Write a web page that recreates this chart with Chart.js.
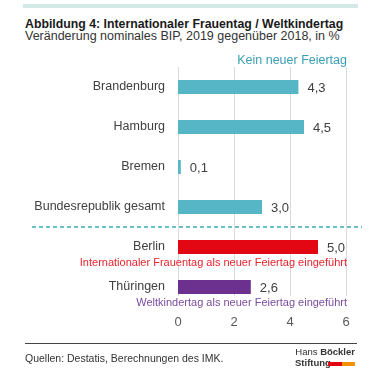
<!DOCTYPE html>
<html><head><meta charset="utf-8">
<script src="https://cdn.jsdelivr.net/npm/chart.js@4/dist/chart.umd.min.js"></script>
<style>
html,body{margin:0;padding:0;background:#fff;width:370px;height:377px;overflow:hidden;font-family:"Liberation Sans",Arial,sans-serif;}
#wrap{position:relative;width:370px;height:377px;}
canvas{position:absolute;left:0;top:0;}
.abs{position:absolute;white-space:nowrap;}
</style></head>
<body><div id="wrap">
<div class="abs" style="left:23px;top:4px;width:335px;height:4px;background:#d4e9e6"></div>
<div class="abs" id="title" style="left:25px;top:17px;font-size:12.3px;line-height:14px;font-weight:bold;color:#1a1a1a"></div>
<div class="abs" id="subtitle" style="left:25px;top:28.5px;font-size:12.5px;line-height:14px;color:#333"></div>
<canvas id="c" width="370" height="377"></canvas>
<div class="abs" style="left:25px;top:343px;width:332px;height:1px;background:#444"></div>
<div class="abs" id="source" style="left:25px;top:352px;font-size:10.5px;line-height:12px;color:#333"></div>
<div class="abs" style="right:15px;top:347px;font-size:9.5px;line-height:10px;color:#333"><span>Hans </span><b>Böckler</b></div>
<div class="abs" style="left:295px;top:358px;font-size:9.5px;line-height:10px;color:#333;font-weight:bold">Stiftung</div>
<div class="abs" style="left:328px;top:362px;width:14px;height:4px;background:#e30613"></div>
<div class="abs" style="left:342px;top:362px;width:13px;height:4px;background:#f39200"></div>
</div>
<script>
const titleText = 'Abbildung 4: Internationaler Frauentag / Weltkindertag';
const subtitleText = 'Veränderung nominales BIP, 2019 gegenüber 2018, in %';
const sourceText = 'Quellen: Destatis, Berechnungen des IMK.';
const categories = ['Brandenburg', 'Hamburg', 'Bremen', 'Bundesrepublik gesamt', 'Berlin', 'Thüringen'];
const values = [4.3, 4.5, 0.1, 3.0, 5.0, 2.6];
const notes = ['', '', '', '', 'Internationaler Frauentag als neuer Feiertag eingeführt', 'Weltkindertag als neuer Feiertag eingeführt'];
const groupNote = 'Kein neuer Feiertag';
const xTicks = [0, 2, 4, 6];

document.getElementById('title').textContent = titleText;
document.getElementById('subtitle').textContent = subtitleText;
document.getElementById('source').textContent = sourceText;

const TEAL = '#56b6c6', RED = '#e30613', PURPLE = '#6c318f';
const barColors = [TEAL, TEAL, TEAL, TEAL, RED, PURPLE];
const noteColors = ['', '', '', '', '#e8232e', '#7a4c9e'];
const FONT = '"Liberation Sans", Arial, sans-serif';

const gridPlugin = {
  id: 'gridPlugin',
  beforeDatasetsDraw(chart) {
    const ctx = chart.ctx, area = chart.chartArea;
    const xs = chart.scales.x, ys = chart.scales.y;
    const bottom = ys.getPixelForValue(categories.length - 1) + 9;
    ctx.save();
    ctx.strokeStyle = '#d9d9d9';
    ctx.lineWidth = 1;
    xTicks.forEach(v => {
      const x = Math.round(xs.getPixelForValue(v)) + 0.5;
      ctx.beginPath();
      ctx.moveTo(x, area.top);
      ctx.lineTo(x, bottom);
      ctx.stroke();
    });
    ctx.restore();
  }
};

const annot = {
  id: 'annot',
  afterDatasetsDraw(chart) {
    const ctx = chart.ctx, area = chart.chartArea;
    const ys = chart.scales.y;
    const meta = chart.getDatasetMeta(0);
    ctx.save();
    ctx.font = '13px ' + FONT;
    ctx.fillStyle = '#404040';
    ctx.textBaseline = 'middle';
    ctx.textAlign = 'left';
    meta.data.forEach((bar, i) => {
      ctx.fillText(values[i].toFixed(1).replace('.', ','), bar.x + 9, bar.y + 1);
    });
    ctx.font = '11px ' + FONT;
    ctx.textAlign = 'right';
    notes.forEach((n, i) => {
      if (!n) return;
      ctx.fillStyle = noteColors[i];
      ctx.fillText(n, area.right + 1, ys.getPixelForValue(i) + 16);
    });
    ctx.font = '12.5px ' + FONT;
    ctx.fillStyle = '#3a9fb4';
    ctx.fillText(groupNote, area.right + 1, area.top - 6);
    const sepY = (ys.getPixelForValue(3) + ys.getPixelForValue(4)) / 2;
    ctx.strokeStyle = '#6cc0cc';
    ctx.lineWidth = 2;
    ctx.setLineDash([4, 3]);
    ctx.beginPath();
    ctx.moveTo(32, sepY);
    ctx.lineTo(362, sepY);
    ctx.stroke();
    ctx.restore();
  }
};

new Chart(document.getElementById('c'), {
  type: 'bar',
  data: {
    labels: categories,
    datasets: [{
      data: values,
      backgroundColor: barColors,
      barPercentage: 0.35,
      categoryPercentage: 1.0,
      borderWidth: 0
    }]
  },
  options: {
    indexAxis: 'y',
    responsive: false,
    animation: false,
    devicePixelRatio: 1,
    layout: { padding: { top: 67, right: 24, left: 0, bottom: 0 } },
    plugins: { legend: { display: false }, tooltip: { enabled: false } },
    scales: {
      x: {
        min: 0, max: 6,
        afterBuildTicks: (s) => { s.ticks = xTicks.map(v => ({ value: v })); },
        afterFit: (s) => { s.height = 70; },
        grid: { display: false, drawTicks: false },
        border: { display: false },
        ticks: { padding: 8, color: '#595959', font: { family: FONT, size: 13 } }
      },
      y: {
        afterFit: (s) => { s.width = 178; },
        grid: { display: false, drawTicks: false },
        border: { display: false },
        ticks: { padding: 13, color: '#404040', font: { family: FONT, size: 12.5 } }
      }
    }
  },
  plugins: [gridPlugin, annot]
});
</script>
</body></html>
